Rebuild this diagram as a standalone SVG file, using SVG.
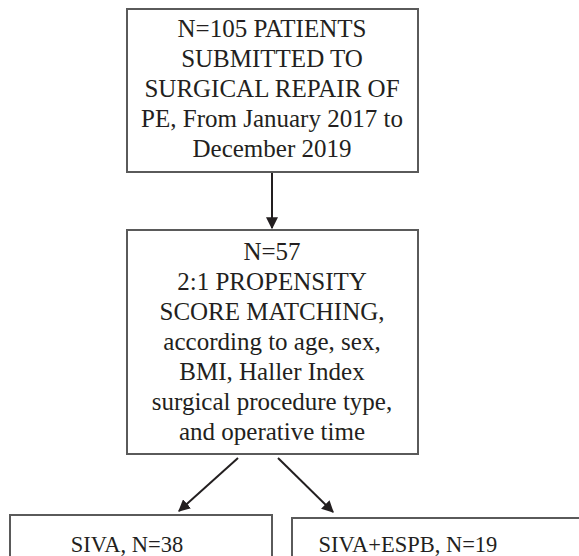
<svg xmlns="http://www.w3.org/2000/svg" width="579" height="556" viewBox="0 0 579 556">
<defs>
<style>
.box{fill:#fff;stroke:#5a5a5a;stroke-width:2}
.t{font-size:25px;fill:#231f20;text-anchor:middle}
.s{font-size:22.5px}
.c{stroke:#231f20;stroke-width:2;fill:none}
</style>
<marker id="ah" viewBox="0 0 10 10" refX="9" refY="5" markerWidth="6" markerHeight="6" orient="auto" markerUnits="strokeWidth">
<path d="M0,0 L10,5 L0,10 z" fill="#231f20"/>
</marker>
</defs>
<rect width="579" height="556" fill="#fff"/>
<g font-family="'Liberation Serif', 'DejaVu Serif', serif">
<g id="node-top">
<rect class="box" x="127" y="9" width="291" height="163"/>
<text class="t" x="272" y="37">N=105 PATIENTS</text>
<text class="t" x="272" y="67">SUBMITTED TO</text>
<text class="t" x="272" y="97">SURGICAL REPAIR OF</text>
<text class="t" x="272" y="127">PE, From January 2017 to</text>
<text class="t" x="272" y="157">December 2019</text>
</g>
<g id="node-middle">
<rect class="box" x="127" y="230" width="291" height="224"/>
<text class="t" x="272" y="260">N=57</text>
<text class="t" x="272" y="290">2:1 PROPENSITY</text>
<text class="t" x="272" y="320">SCORE MATCHING,</text>
<text class="t" x="272" y="350">according to age, sex,</text>
<text class="t" x="272" y="380">BMI, Haller Index</text>
<text class="t" x="272" y="410">surgical procedure type,</text>
<text class="t" x="272" y="440">and operative time</text>
</g>
<g id="node-siva">
<rect class="box" x="10" y="515" width="262" height="60"/>
<text class="t s" x="127" y="552">SIVA, N=38</text>
</g>
<g id="node-siva-espb">
<rect class="box" x="292" y="518" width="300" height="60"/>
<text class="t s" x="408" y="552">SIVA+ESPB, N=19</text>
</g>
</g>
<g id="connectors">
<line class="c" x1="272" y1="173" x2="272" y2="228" marker-end="url(#ah)"/>
<line class="c" x1="238" y1="458" x2="179" y2="511" marker-end="url(#ah)"/>
<line class="c" x1="278" y1="458" x2="333" y2="512" marker-end="url(#ah)"/>
</g>
</svg>
